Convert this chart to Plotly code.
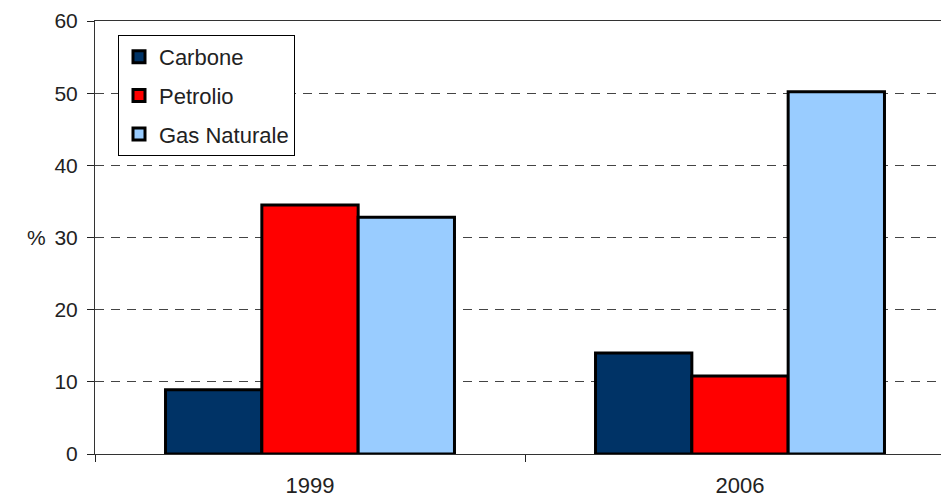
import plotly.graph_objects as go

categories = ["1999", "2006"]
carbone = [8.9, 14.0]
petrolio = [34.5, 10.8]
gas_naturale = [32.8, 50.2]
series_names = ["Carbone", "Petrolio", "Gas Naturale"]
y_ticks = [0, 10, 20, 30, 40, 50, 60]

colors = ["#003366", "#FF0000", "#99CCFF"]
FONT = "Liberation Sans, Arial, sans-serif"

# page body has an 8px margin; figure sized to fit the window
OFF = 8
W, H = 949 - OFF, 501 - OFF
ML, MR, MT, MB = 95 - OFF, 0, 21 - OFF, 501 - 454
PW, PH = W - ML - MR, H - MT - MB
cat_px = 430.0
span = PW / cat_px

fig = go.Figure()
for name, vals, col in zip(series_names, [carbone, petrolio, gas_naturale], colors):
    fig.add_trace(go.Bar(
        x=categories, y=vals, name=name, legendgroup=name,
        marker=dict(color=col, line=dict(color="black", width=3)),
    ))

def px_x(p):
    return (p - OFF - ML) / PW

def px_y(p):
    return (H - MB - (p - OFF)) / PH

fig.update_layout(
    width=W, height=H,
    margin=dict(l=ML, r=MR, t=MT, b=MB),
    paper_bgcolor="white",
    plot_bgcolor="white",
    barmode="group", bargap=0.328, bargroupgap=0,
    font=dict(family=FONT, size=21, color="#222"),
    showlegend=True,
    legend=dict(
        x=px_x(118), y=px_y(35), xanchor="left", yanchor="top",
        bgcolor="white", bordercolor="black", borderwidth=1,
        font=dict(family=FONT, size=22, color="#222"),
        tracegroupgap=7,
    ),
    xaxis=dict(
        type="category", range=[-0.5, -0.5 + span],
        showline=True, linecolor="#333", linewidth=1, mirror=True,
        ticks="outside", tickson="boundaries", ticklen=7, tickcolor="#222",
        showgrid=False, tickfont=dict(size=22, color="#222"),
        ticklabelstandoff=12,
    ),
    yaxis=dict(
        range=[0, 60], tickvals=y_ticks,
        showline=True, linecolor="#333", linewidth=1,
        ticks="outside", ticklen=7, tickcolor="#222",
        showgrid=True, gridcolor="#444", gridwidth=1, griddash="9px,7px",
        zeroline=False, tickfont=dict(size=21, color="#222"),
        ticklabelstandoff=5,
    ),
    annotations=[dict(
        text="%", xref="paper", yref="y", x=px_x(36), y=30,
        xanchor="center", yanchor="middle", showarrow=False,
        font=dict(family=FONT, size=21, color="#222"),
    )],
)

fig.write_html("out.html")
